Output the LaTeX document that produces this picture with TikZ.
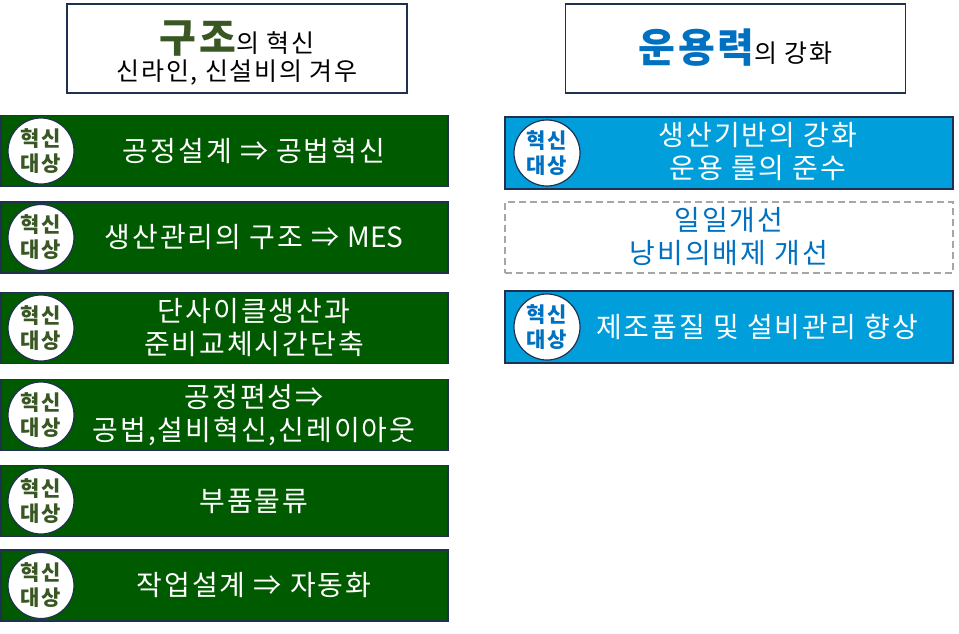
\documentclass[tikz,border=0pt]{standalone}
\usepackage{fontspec}
\setmainfont{Noto Sans CJK KR}
\newfontfamily\krsp{Noto Sans CJK KR}[LetterSpace=7]
\definecolor{navy}{HTML}{1F3050}
\definecolor{dgreen}{HTML}{005A00}
\definecolor{olive}{HTML}{385723}
\definecolor{sky}{HTML}{009FDC}
\definecolor{kblue}{HTML}{0070C0}
\definecolor{dgray}{HTML}{A6A6A6}
\begin{document}
\begin{tikzpicture}[x=1pt,y=-1pt,
  titlebox/.style={draw=navy, line width=1.5pt, fill=white, minimum width=340pt, minimum height=89pt, inner sep=0},
  gbox/.style={draw=navy, line width=1.5pt, fill=dgreen, minimum width=447pt, minimum height=71pt, inner sep=0},
  bbox/.style={draw=navy, line width=1.5pt, fill=sky, minimum width=448pt, minimum height=72pt, inner sep=0},
  dbox/.style={draw=dgray, line width=1.2pt, dash pattern=on 7pt off 4pt, minimum width=448pt, minimum height=71pt, inner sep=0},
  badge/.style={circle, draw=navy, line width=1.2pt, fill=white, minimum size=66pt, inner sep=0, align=center, font=\krsp\bfseries\fontsize{21}{25}\selectfont},
  gbadge/.style={badge, text=olive},
  bbadge/.style={badge, text=kblue},
  wtext/.style={text=white, align=center, inner sep=0, font=\krsp\fontsize{28}{33}\selectfont},
  btext/.style={text=kblue, align=center, inner sep=0, font=\krsp\fontsize{28}{33}\selectfont},
  ttext/.style={align=center, inner sep=0, font=\krsp\fontsize{25}{31}\selectfont}
]
\useasboundingbox (0,0) rectangle (959,633);
% titles
\node[titlebox] (t1) at (237,48.5) {};
\node[ttext] (t1a) at (237,39) {\textcolor{olive}{\bfseries\fontsize{40}{42}\selectfont 구조}의 혁신};
\node[ttext] (t1b) at (237,73) {신라인, 신설비의 겨우};
\node[titlebox] (t2) at (735.5,48.5) {};
\node[ttext] (t2a) at (735.5,48) {\textcolor{kblue}{\bfseries\fontsize{40}{42}\selectfont 운용력}의 강화};
% left column
\node[gbox] (g1) at (224.5,151) {};
\node[gbox] (g2) at (224.5,237.5) {};
\node[gbox] (g3) at (224.5,328) {};
\node[gbox] (g4) at (224.5,415) {};
\node[gbox] (g5) at (224.5,501) {};
\node[gbox] (g6) at (224.5,585.5) {};
\node[gbadge] (c1) at (41,151) {혁신\\대상};
\node[gbadge] (c2) at (41,237.5) {혁신\\대상};
\node[gbadge] (c3) at (41,328) {혁신\\대상};
\node[gbadge] (c4) at (41,415) {혁신\\대상};
\node[gbadge] (c5) at (41,501) {혁신\\대상};
\node[gbadge] (c6) at (41,585.5) {혁신\\대상};
\node[wtext] (w1) at (254,151) {공정설계 ⇒ 공법혁신};
\node[wtext] (w2) at (254,237.5) {생산관리의 구조 ⇒ {\rmfamily MES}};
\node[wtext] (w3) at (254,328) {단사이클생산과\\준비교체시간단축};
\node[wtext] (w4) at (254,415) {공정편성⇒\\공법,설비혁신,신레이아웃};
\node[wtext] (w5) at (254,501) {부품물류};
\node[wtext] (w6) at (254,585.5) {작업설계 ⇒ 자동화};
% right column
\node[bbox] (b1) at (729,153) {};
\node[bbadge] (d1) at (547,153) {혁신\\대상};
\node[wtext] (x1) at (758,152) {생산기반의 강화\\운용 룰의 준수};
\node[dbox] (b2) at (729,237.5) {};
\node[btext] (x2) at (729,237) {일일개선\\낭비의배제 개선};
\node[bbox] (b3) at (729,327) {};
\node[bbadge] (d3) at (547,327) {혁신\\대상};
\node[wtext] (x3) at (757,327) {제조품질 및 설비관리 향상};
\end{tikzpicture}
\end{document}
